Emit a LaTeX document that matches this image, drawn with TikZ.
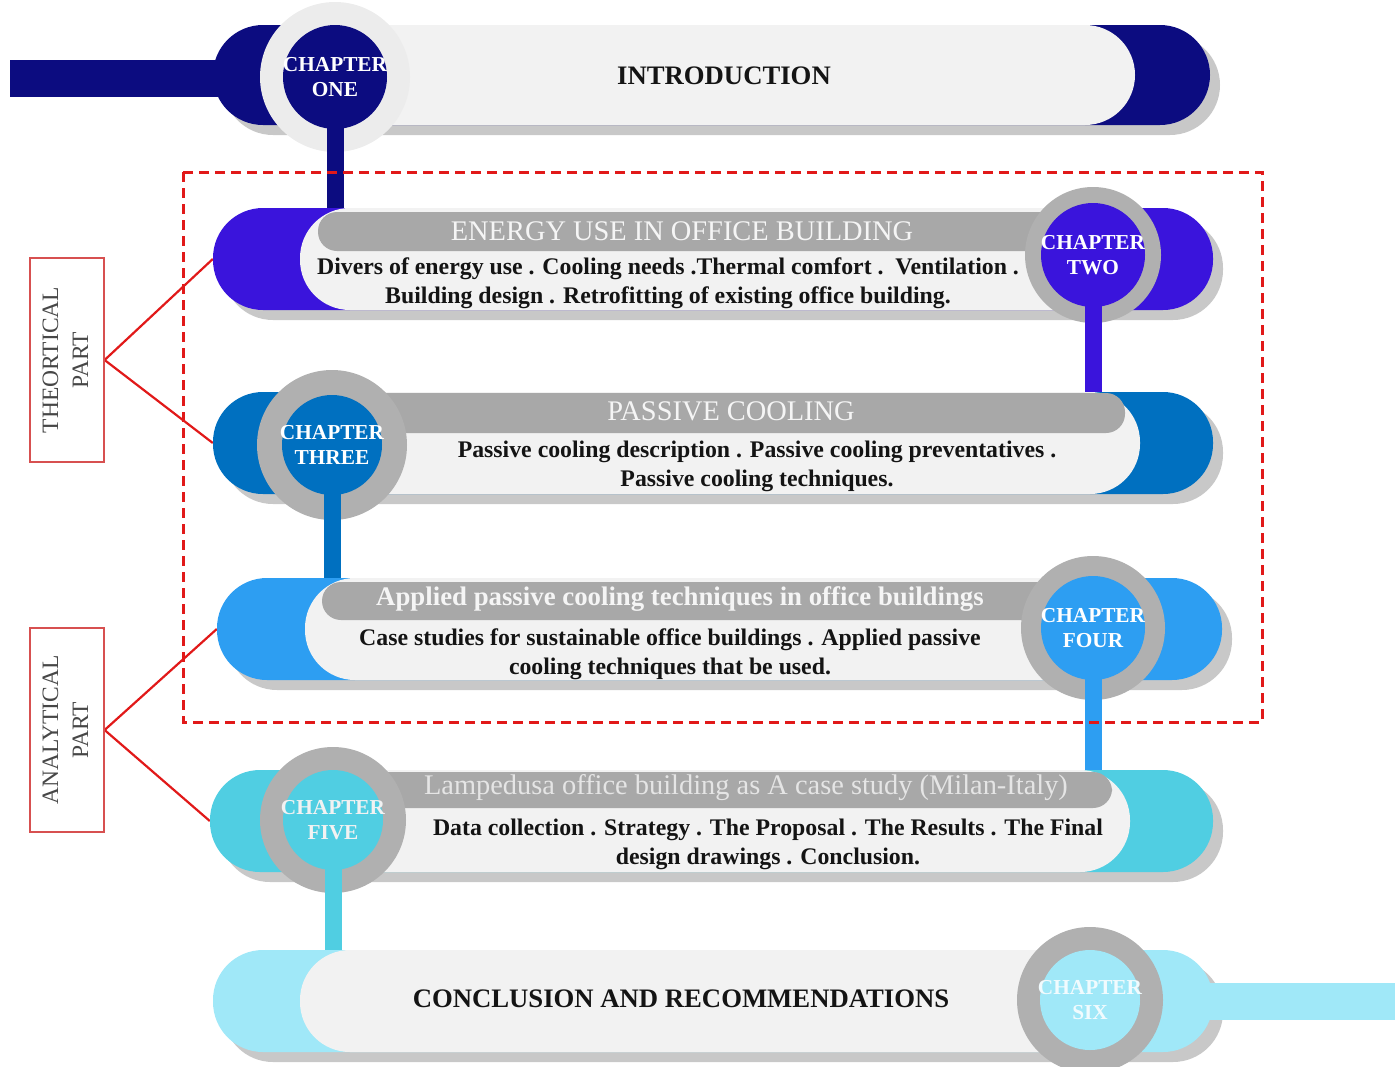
\documentclass[tikz,border=0pt]{standalone}
\usepackage{fontspec}
\setmainfont{Liberation Serif}
\definecolor{cA}{RGB}{12,12,128}
\definecolor{cB}{RGB}{58,20,220}
\definecolor{cC}{RGB}{0,112,192}
\definecolor{cD}{RGB}{45,158,242}
\definecolor{cE}{RGB}{80,206,226}
\definecolor{cF}{RGB}{160,232,248}
\definecolor{lightbg}{RGB}{242,242,242}
\definecolor{shadowgray}{RGB}{200,200,200}
\definecolor{barg}{RGB}{168,168,168}
\definecolor{ringg}{RGB}{176,176,176}
\definecolor{ringlight}{RGB}{236,236,236}
\definecolor{redline}{RGB}{225,25,25}
\definecolor{partred}{RGB}{215,80,80}
\definecolor{txtdark}{RGB}{20,20,20}
\pgfdeclarelayer{bg}
\pgfsetlayers{bg,main}
\tikzset{
  capsule/.style={rectangle, inner sep=0pt, rounded corners=50pt, minimum height=102pt},
  shadowcap/.style={capsule, fill=shadowgray},
  lightcap/.style={capsule, fill=lightbg},
  titlebar/.style={rectangle, inner sep=0pt, fill=barg, rounded corners=19pt},
  ringc/.style={circle, inner sep=0pt, fill=ringg},
  chapc/.style={circle, inner sep=0pt},
  chaptxt/.style={font=\fontsize{21.3}{25.5}\selectfont\bfseries, text=white, align=center, inner sep=0pt},
  titletxt/.style={font=\fontsize{28.4}{32}\selectfont, text=white!96!black, inner sep=0pt},
  bodytxt/.style={font=\fontsize{23.8}{29}\selectfont\bfseries, text=txtdark, align=center, inner sep=0pt},
  headtxt/.style={font=\fontsize{26.7}{30}\selectfont\bfseries, text=txtdark, inner sep=0pt},
  conn/.style={line width=17pt, shorten <=-4pt},
  partbox/.style={draw=partred, line width=1.2pt, minimum width=74pt, minimum height=204pt, inner sep=0pt, font=\fontsize{23.5}{30}\selectfont, text=black!72},
  redl/.style={draw=redline, line width=2.2pt},
  dashbox/.style={draw=redline, line width=3pt, dash pattern=on 10pt off 6pt},
}
\begin{document}
\begin{tikzpicture}[x=1pt,y=-1pt]
\useasboundingbox (0,0) rectangle (1395,1066);

% ---------- Band 1 : Introduction ----------
\fill[cA] (10,60) rectangle (230,97);
\node[shadowcap, minimum height=100pt, minimum width=997pt] (s1) at (721.5,85) {};
\node[capsule, fill=cA, minimum height=100pt, minimum width=997pt] (b1) at (711.5,75) {};
\node[lightcap, minimum height=100pt, minimum width=855pt] (l1) at (707.5,75) {};
\node[ringc, fill=ringlight, minimum size=150pt] (r1) at (335,77) {};
\node[chapc, fill=cA, minimum size=104pt] (ch1) at (335,77) {};
\node[chaptxt] (ch1t) at (ch1) {CHAPTER\\ONE};
\node[headtxt] (intro) at (724,76) {INTRODUCTION};

% ---------- Band 2 : Energy use ----------
\node[shadowcap, minimum width=1000pt] (s2) at (723,269) {};
\node[capsule, fill=cB, minimum width=1000pt] (b2) at (713,259) {};
\node[lightcap, minimum width=810pt] (l2) at (705,259) {};
\node[titlebar, minimum width=757pt, minimum height=39pt] (t2) at (696.5,231.5) {};
\node[titletxt] (t2t) at (682,231) {ENERGY USE IN OFFICE BUILDING};
\node[bodytxt] (d2) at (668,283) {Divers of energy use . Cooling needs .Thermal comfort .\ \ Ventilation .\\Building design . Retrofitting of existing office building.};
\node[ringc, minimum size=136pt] (r2) at (1093,255) {};
\node[chapc, fill=cB, minimum size=104pt] (ch2) at (1093,255) {};
\node[chaptxt] (ch2t) at (ch2) {CHAPTER\\TWO};
\draw[conn, cA] (ch1.south) -- (ch1.south |- b2.north);

% ---------- Band 3 : Passive cooling ----------
\node[shadowcap, minimum width=1000pt] (s3) at (723,453) {};
\node[capsule, fill=cC, minimum width=1000pt] (b3) at (713,443) {};
\node[lightcap, minimum width=860pt] (l3) at (710,443) {};
\node[titlebar, minimum width=785pt, minimum height=40pt] (t3) at (732.5,413) {};
\node[titletxt] (t3t) at (731,411) {PASSIVE COOLING};
\node[bodytxt] (d3) at (757,466) {Passive cooling description . Passive cooling preventatives .\\Passive cooling techniques.};
\node[ringc, minimum size=150pt] (r3) at (332,445) {};
\node[chapc, fill=cC, minimum size=100pt] (ch3) at (332,445) {};
\node[chaptxt] (ch3t) at (ch3) {CHAPTER\\THREE};
\draw[conn, cB] (ch2.south) -- (ch2.south |- b3.north);

% ---------- Band 4 : Applied ----------
\node[shadowcap, minimum width=1005pt] (s4) at (729.5,639) {};
\node[capsule, fill=cD, minimum width=1005pt] (b4) at (719.5,629) {};
\node[lightcap, minimum width=805pt] (l4) at (707.5,629) {};
\node[titlebar, minimum width=738pt, minimum height=38pt] (t4) at (691,601) {};
\node[titletxt, font=\fontsize{26.8}{30}\selectfont\bfseries] (t4t) at (680,599) {Applied passive cooling techniques in office buildings};
\node[bodytxt] (d4) at (670,654) {Case studies for sustainable office buildings . Applied passive\\cooling techniques that be used.};
\node[ringc, minimum size=144pt] (r4) at (1093,628) {};
\node[chapc, fill=cD, minimum size=104pt] (ch4) at (1093,628) {};
\node[chaptxt] (ch4t) at (ch4) {CHAPTER\\FOUR};
\draw[conn, cC] (ch3.south) -- (ch3.south |- b4.north);

% ---------- Band 5 : Lampedusa ----------
\node[shadowcap, minimum width=1003pt] (s5) at (721.5,831) {};
\node[capsule, fill=cE, minimum width=1003pt] (b5) at (711.5,821) {};
\node[lightcap, minimum width=850pt] (l5) at (705,821) {};
\node[titlebar, minimum width=752pt, minimum height=36pt] (t5) at (736,790) {};
\node[titletxt, text=white!90!black] (t5t) at (746,788) {Lampedusa office building as A case study (Milan-Italy)};
\node[bodytxt] (d5) at (768,844) {Data collection . Strategy . The Proposal . The Results . The Final\\design drawings . Conclusion.};
\node[ringc, minimum size=146pt] (r5) at (333,820) {};
\node[chapc, fill=cE, minimum size=100pt] (ch5) at (333,820) {};
\node[chaptxt, text=white!95!black] (ch5t) at (ch5) {CHAPTER\\FIVE};
\draw[conn, cD] (ch4.south) -- (ch4.south |- b5.north);

% ---------- Band 6 : Conclusion ----------
\node[shadowcap, minimum width=1000pt] (s6) at (723,1011) {};
\fill[cF] (1180,983) rectangle (1395,1020);
\node[capsule, fill=cF, minimum width=1000pt] (b6) at (713,1001) {};
\node[lightcap, minimum width=810pt] (l6) at (705,1001) {};
\node[headtxt] (concl) at (681,999) {CONCLUSION AND RECOMMENDATIONS};
\node[ringc, minimum size=146pt] (r6) at (1090,1000) {};
\node[chapc, fill=cF, minimum size=100pt] (ch6) at (1090,1000) {};
\node[chaptxt, text=white!85!cF] (ch6t) at (ch6) {CHAPTER\\SIX};
\draw[conn, cE] (ch5.south) -- (ch5.south |- b6.north);

% ---------- Parts ----------
\node[partbox] (theo) at (67,360) {\rotatebox{90}{\begin{tabular}{@{}c@{}}THEORTICAL\\PART\end{tabular}}};
\node[partbox] (ana) at (67,730) {\rotatebox{90}{\begin{tabular}{@{}c@{}}ANALYTICAL\\PART\end{tabular}}};
\begin{pgfonlayer}{bg}
\draw[redl] (theo.east) -- (b2.west);
\draw[redl] (theo.east) -- (b3.west);
\draw[redl] (ana.east) -- (b4.west);
\draw[redl] (ana.east) -- (b5.west);
\end{pgfonlayer}

% ---------- Dashed frame ----------
\draw[dashbox] (183,172) rectangle (1262,722);
\end{tikzpicture}
\end{document}
